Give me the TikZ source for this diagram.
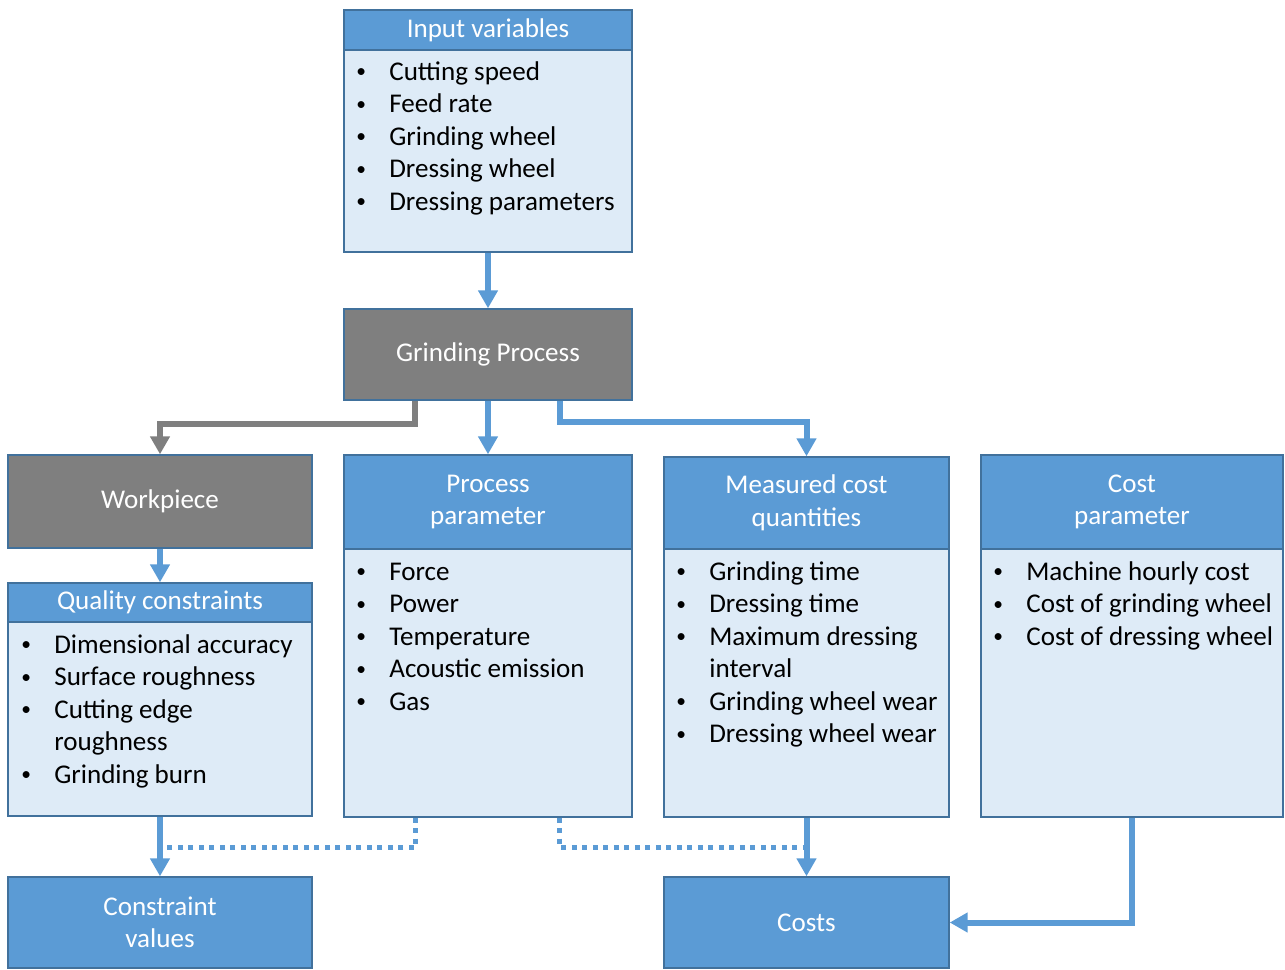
\documentclass[tikz,border=0pt]{standalone}
\usepackage{fontspec}
\setmainfont{Carlito}
\usetikzlibrary{arrows.meta,fit}
\definecolor{hdrblue}{HTML}{5B9BD5}
\definecolor{bodyblue}{HTML}{DEEBF7}
\definecolor{edgeblue}{HTML}{41719C}
\definecolor{procgray}{HTML}{7F7F7F}
\newcommand\diagfont{\fontsize{15.4}{18.5}\selectfont}
\newcommand\bl{\hspace*{0.04cm}\raisebox{0.08em}{\scalebox{0.72}{\textbullet}}}
\newenvironment{bullets}{\begin{tabular}[t]{@{}p{0.7cm}@{}l@{}}}{\end{tabular}}

\begin{document}
\begin{tikzpicture}[x=0.02cm,y=-0.02cm,
  font=\diagfont,
  panel/.style={draw=edgeblue,line width=0.8pt,inner sep=0pt},
  header/.style={panel,fill=hdrblue},
  grayhdr/.style={panel,fill=procgray},
  body/.style={panel,fill=bodyblue},
  title/.style={text=white,align=center,inner sep=0pt},
  list/.style={anchor=base west,inner sep=0pt,text=black},
  flow/.style={draw=hdrblue,line width=0.12cm,-{Triangle[width=0.38cm,length=0.36cm]}},
  grayflow/.style={draw=procgray,line width=0.12cm,-{Triangle[width=0.38cm,length=0.36cm]}},
  dotflow/.style={draw=hdrblue,line width=0.1cm,line cap=butt,dash pattern=on 0.1cm off 0.11cm}
]
\useasboundingbox (0,0) rectangle (1285,970);

% input variables
\node[header,fit={(344,10)(632,50)}] (inh) {};
\node[title] at (inh.center) {Input variables};
\node[body,fit={(344,50)(632,252)}] (inb) {};
\node[list] (inl) at (354,80) {\begin{bullets}
\bl & Cutting speed\\
\bl & Feed rate\\
\bl & Grinding wheel\\
\bl & Dressing wheel\\
\bl & Dressing parameters
\end{bullets}};

% grinding process
\node[grayhdr,fit={(344,309)(632,400)}] (gp) {};
\node[title] at (gp.center) {Grinding Process};

% workpiece and quality constraints
\node[grayhdr,fit={(8,455)(312,548)}] (wp) {};
\node[title] at (wp.center) {Workpiece};
\node[header,fit={(8,583)(312,622)}] (qch) {};
\node[title] at (qch.center) {Quality constraints};
\node[body,fit={(8,622)(312,816)}] (qcb) {};
\node[list] (qcl) at (19,653) {\begin{bullets}
\bl & Dimensional accuracy\\
\bl & Surface roughness\\
\bl & Cutting edge\\
    & roughness\\
\bl & Grinding burn
\end{bullets}};

% process parameter
\node[header,fit={(344,455)(632,549)}] (pph) {};
\node[title] at (pph.center) {Process\\parameter};
\node[body,fit={(344,549)(632,817)}] (ppb) {};
\node[list] (ppl) at (354,580) {\begin{bullets}
\bl & Force\\
\bl & Power\\
\bl & Temperature\\
\bl & Acoustic emission\\
\bl & Gas
\end{bullets}};

% measured cost quantities
\node[header,fit={(664,457)(949,549)}] (mch) {};
\node[title] at (mch.center) {Measured cost\\quantities};
\node[body,fit={(664,549)(949,817)}] (mcb) {};
\node[list] (mcl) at (674,580) {\begin{bullets}
\bl & Grinding time\\
\bl & Dressing time\\
\bl & Maximum dressing\\
    & interval\\
\bl & Grinding wheel wear\\
\bl & Dressing wheel wear
\end{bullets}};

% cost parameter
\node[header,fit={(981,455)(1283,549)}] (cph) {};
\node[title] at (cph.center) {Cost\\parameter};
\node[body,fit={(981,549)(1283,817)}] (cpb) {};
\node[list] (cpl) at (991,580) {\begin{bullets}
\bl & Machine hourly cost\\
\bl & Cost of grinding wheel\\
\bl & Cost of dressing wheel
\end{bullets}};

% results
\node[header,fit={(8,877)(312,968)}] (cv) {};
\node[title] at (cv.center) {Constraint\\values};
\node[header,fit={(664,877)(949,968)}] (costs) {};
\node[title] at (costs.center) {Costs};

% connectors
\draw[flow] (inb.south) -- (gp.north);
\draw[flow] (gp.south) -- (pph.north);
\draw[grayflow] ([xshift=-1.46cm]gp.south) -- ++(0,23) -| (wp.north);
\draw[flow] ([xshift=1.44cm]gp.south) -- ++(0,21) -| (mch.north);
\draw[flow] (wp.south) -- (qch.north);
\draw[dotflow] ([xshift=-1.46cm]ppb.south) -- ++(0,30) -- ++(-255,0);
\draw[dotflow] ([xshift=1.44cm]ppb.south) -- ++(0,30) -- ++(247,0);
\draw[flow] (qcb.south) -- (cv.north);
\draw[flow] (mcb.south) -- (costs.north);
\draw[flow] (cpb.south) |- (costs.east);
\end{tikzpicture}
\end{document}
